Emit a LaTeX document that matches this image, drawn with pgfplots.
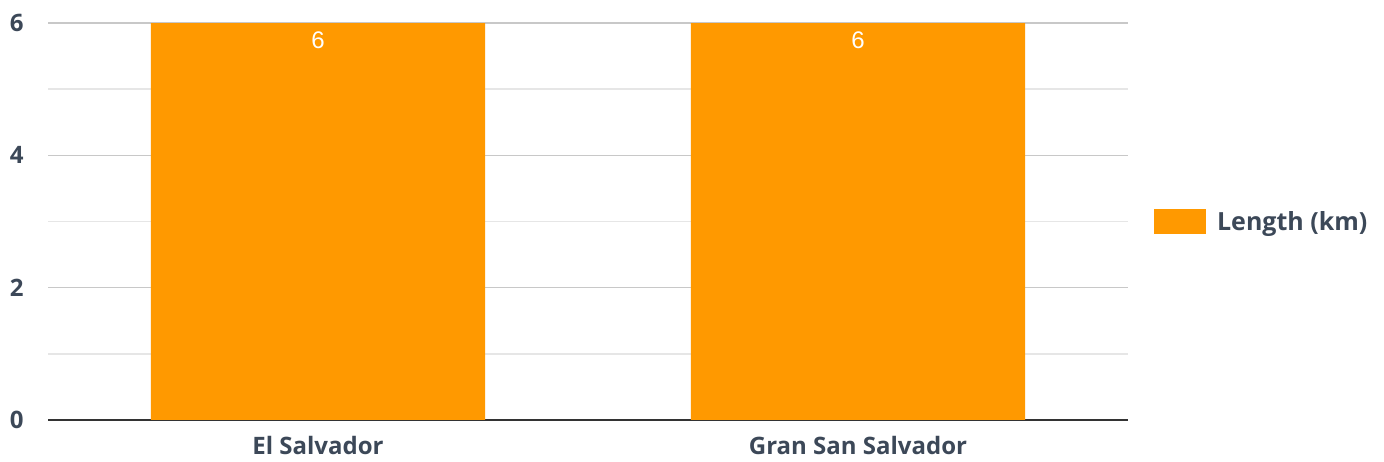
\documentclass[border=0pt]{standalone}
\usepackage{pgfplots}
\pgfplotsset{compat=1.18}
\usepackage{fontspec}
\setmainfont{Open Sans}
\newfontfamily\arialfont{Liberation Sans}
\definecolor{txt}{HTML}{3C4858}
\definecolor{barc}{HTML}{FF9900}
\definecolor{majg}{HTML}{C8C8C8}
\definecolor{ming}{HTML}{E6E6E6}
\definecolor{axc}{HTML}{333333}
\begin{document}
\begin{tikzpicture}
\path[use as bounding box] (0,0) rectangle (1384pt,462pt);
\begin{axis}[
  at={(48pt,42pt)}, anchor=south west,
  scale only axis, width=1080pt, height=397pt,
  ybar, bar width=334pt,
  xmin=-0.5, xmax=1.5, ymin=0, ymax=6,
  xtick={0,1}, xticklabels={El Salvador, Gran San Salvador},
  ytick={0,2,4,6}, minor ytick={1,3,5},
  ymajorgrids, yminorgrids,
  major grid style={majg, line width=1.5pt},
  minor grid style={ming, line width=1.5pt},
  axis x line*=bottom, axis y line*=left,
  x axis line style={axc, line width=2pt, -},
  y axis line style={draw=none},
  /pgf/number format/assume math mode=true,
  major tick length=0pt, minor tick length=0pt,
  tick label style={font=\fontsize{24}{28}\selectfont\bfseries, text=txt},
  yticklabel style={xshift=-21pt},
  xticklabel style={yshift=-12.5pt},
  nodes near coords,
  every node near coord/.append style={anchor=north, inner sep=0pt, yshift=-9pt, font=\fontsize{24}{28}\selectfont\arialfont, text=white},
  legend style={at={(1.024,0.5)}, anchor=west, draw=none, fill=none, inner sep=0pt, column sep=11pt, font=\fontsize{25}{30}\selectfont\bfseries, text=txt, nodes={inner sep=0pt}},
  legend image code/.code={\fill[barc] (0pt,-12.5pt) rectangle (52pt,12.5pt);},
]
\addplot[fill=barc, draw=none] coordinates {(0,6) (1,6)};
\addlegendentry{Length (km)}
\end{axis}
\end{tikzpicture}
\end{document}
